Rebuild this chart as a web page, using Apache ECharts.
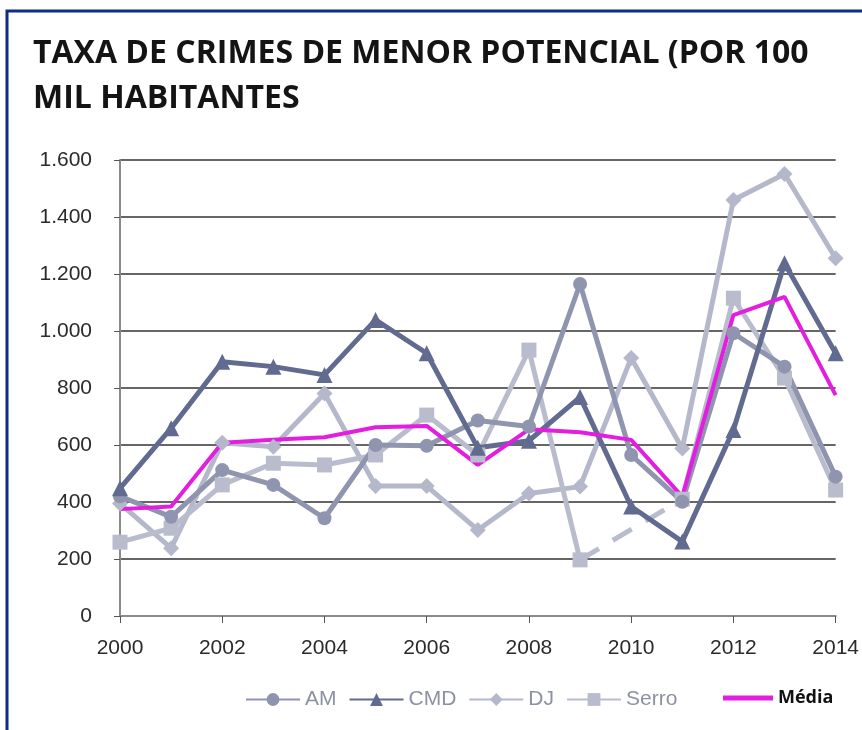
<!DOCTYPE html>
<html>
<head>
<meta charset="utf-8">
<title>Taxa de crimes de menor potencial</title>
<script src="https://cdn.jsdelivr.net/npm/echarts@6/dist/echarts.min.js"></script>
<style>
  * { margin: 0; padding: 0; }
  body { background: #fff; }
</style>
</head>
<body>
<div id="main" style="width: 862px; height: 730px;"></div>
<script>
  // dados
  const anos = ['2000','2001','2002','2003','2004','2005','2006','2007','2008','2009','2010','2011','2012','2013','2014'];
  const am    = [420, 348, 512, 460, 343, 600, 597, 686, 665, 1165, 565, 401, 992, 875, 489];
  const cmd   = [448, 659, 892, 875, 846, 1039, 922, 590, 615, 768, 384, 261, 653, 1238, 922];
  const dj    = [395, 238, 608, 594, 781, 456, 456, 302, 430, 454, 905, 588, 1460, 1551, 1255];
  const serro = [259, 308, 460, 536, 530, 565, 705, 565, 933, 197, null, 410, 1115, 835, 442];
  const serroFalha = [null, null, null, null, null, null, null, null, null, 197, null, 410, null, null, null];
  const media = [375, 384, 608, 618, 627, 662, 667, 530, 655, 645, 618, 419, 1056, 1120, 775];

  const myChart = echarts.init(document.getElementById('main'));

  function linha(nome, dados, cor, simbolo, tam) {
    return {
      name: nome,
      type: 'line',
      data: dados,
      symbol: simbolo,
      symbolSize: tam,
      itemStyle: { color: cor },
      lineStyle: { color: cor, width: 5 },
      emphasis: { disabled: true }
    };
  }

  const option = {
    animation: false,
    title: {
      text: 'TAXA DE CRIMES DE MENOR POTENCIAL (POR 100\nMIL HABITANTES',
      left: 28,
      top: 26,
      textStyle: {
        fontFamily: 'Open Sans',
        fontWeight: 'bold',
        fontSize: 32,
        lineHeight: 45,
        color: '#141414'
      }
    },
    graphic: [{
      type: 'rect',
      shape: { x: 7, y: 11, width: 900, height: 800 },
      style: { fill: null, stroke: '#102c86', lineWidth: 3 },
      silent: true
    }],
    legend: [{
      data: ['AM', 'CMD', 'DJ', 'Serro'],
      left: 240,
      top: 684,
      itemWidth: 54,
      itemHeight: 16,
      itemGap: 12,
      textStyle: { fontFamily: 'Liberation Sans', fontSize: 21, color: '#8d91a5' }
    }, {
      data: [{ name: 'Média', icon: 'rect' }],
      left: 718,
      top: 684,
      itemWidth: 50,
      itemHeight: 5,
      textStyle: { fontFamily: 'Open Sans', fontWeight: 'bold', fontSize: 18, color: '#111' }
    }],
    grid: { left: 120, right: 25, top: 160, bottom: 114 },
    xAxis: {
      type: 'category',
      data: anos,
      boundaryGap: false,
      axisLine: { lineStyle: { color: '#8a8a8a', width: 2 } },
      axisTick: { interval: 1, length: 7, lineStyle: { color: '#555' } },
      axisLabel: {
        interval: 1,
        margin: 22,
        fontFamily: 'Liberation Sans',
        fontSize: 21,
        color: '#2a2a2a'
      },
      splitLine: { show: false }
    },
    yAxis: {
      type: 'value',
      min: 0,
      max: 1600,
      interval: 200,
      axisLine: { show: true, lineStyle: { color: '#8a8a8a', width: 2 } },
      axisTick: { show: true, length: 6, lineStyle: { color: '#555' } },
      axisLabel: {
        margin: 28,
        fontFamily: 'Liberation Sans',
        fontSize: 21,
        color: '#2a2a2a',
        formatter: function (v) {
          return v.toString().replace(/\B(?=(\d{3})+(?!\d))/g, '.');
        }
      },
      splitLine: { lineStyle: { color: '#333', width: 1.5 } }
    },
    series: [
      linha('DJ', dj, '#b4b8ca', 'diamond', 16),
      linha('Serro', serro, '#b9bccc', 'rect', 15),
      {
        name: 'Serro falha',
        type: 'line',
        data: serroFalha,
        connectNulls: true,
        symbol: 'none',
        lineStyle: { color: '#b9bccc', width: 5, type: [22, 16] },
        emphasis: { disabled: true }
      },
      linha('AM', am, '#8f95ae', 'circle', 14),
      linha('CMD', cmd, '#606b8f', 'triangle', 16),
      {
        name: 'Média',
        type: 'line',
        data: media,
        symbol: 'none',
        itemStyle: { color: '#e31ee0' },
        lineStyle: { color: '#e31ee0', width: 4 },
        emphasis: { disabled: true }
      }
    ]
  };

  myChart.setOption(option);
</script>
</body>
</html>
